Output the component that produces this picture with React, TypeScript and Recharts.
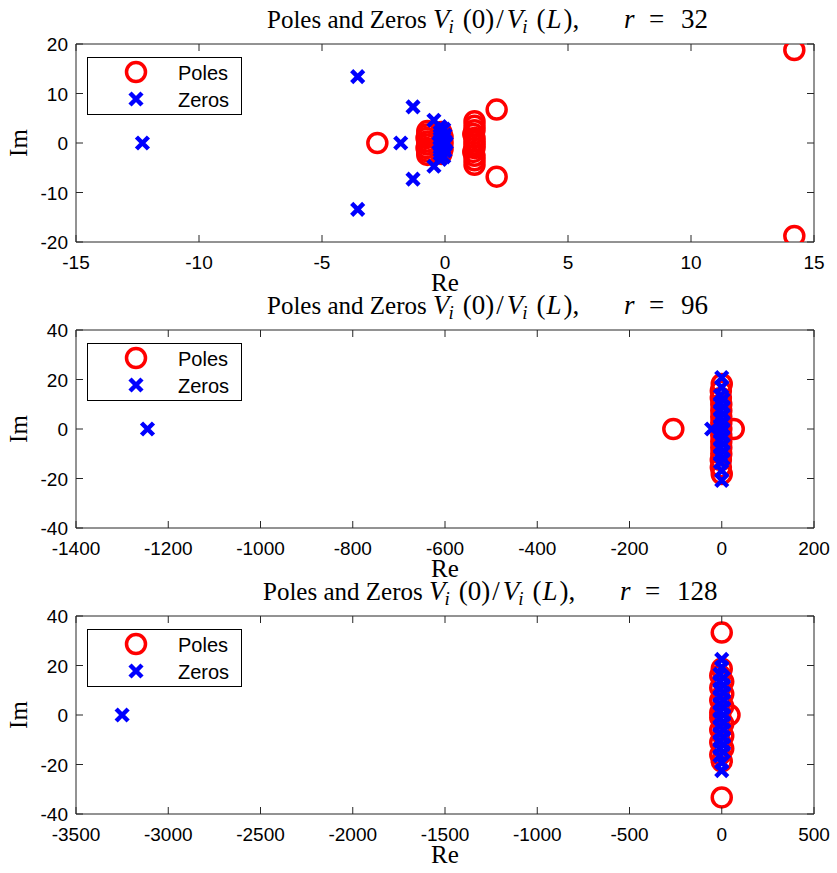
import React from 'react';
import { ScatterChart, Scatter, XAxis, YAxis, ReferenceArea, Legend } from 'recharts';

// ---------- Panel 1 : r = 32 ----------
const poles32: number[][] = [
  [14.2, 18.8], [14.2, -18.8], [2.1, 6.75], [2.1, -6.8], [-2.75, 0],
  [1.2, 4.4], [1.2, -4.4], [1.2, 3.5], [1.2, -3.5], [1.2, 2.6], [1.2, -2.6],
  [1.15, 1.8], [1.15, -1.8], [1.2, 1.0], [1.2, -1.0], [1.2, 0.3], [1.2, -0.3],
  [-0.72, 2.4], [-0.72, -2.4], [-0.72, 1.7], [-0.72, -1.7], [-0.75, 1.0], [-0.75, -1.0],
  [-0.72, 0.3], [-0.72, -0.3],
  [-0.15, 2.2], [-0.15, -2.2], [-0.1, 1.2], [-0.1, -1.2], [-0.1, 0],
];
const zeros32: number[][] = [
  [-12.3, 0], [-3.55, 13.4], [-3.55, -13.4], [-1.3, 7.3], [-1.3, -7.3], [-1.8, 0],
  [-0.45, 4.6], [-0.45, -4.7],
  [-0.2, 3.3], [-0.2, -3.3], [-0.05, 2.8], [-0.05, -2.8], [-0.2, 2.2], [-0.2, -2.2],
  [0, 1.6], [0, -1.6], [-0.2, 1.0], [-0.2, -1.0], [0, 0.4], [0, -0.4], [-0.25, 0], [0.05, 0],
];
const xTicks32 = [-15, -10, -5, 0, 5, 10, 15];
const yTicks32 = [-20, -10, 0, 10, 20];

// ---------- Panel 2 : r = 96 ----------
const poles96: number[][] = [
  [-105, 0], [26, 0],
  [0, 18.2], [0, -18.2], [-2, 15.5], [-2, -15.5], [-2, 12.5], [-2, -12.5],
  [-1, 10], [-1, -10], [-1, 7.5], [-1, -7.5], [-1, 5], [-1, -5], [-1, 2.5], [-1, -2.5], [-1, 0],
];
const zeros96: number[][] = [
  [-1245, 0], [-22, 0],
  [0, 20.8], [0, -20.8], [0, 16.8], [0, -16.8],
  [-3, 13.5], [-3, -13.5], [3, 12], [3, -12], [-3, 10.5], [-3, -10.5], [3, 9], [3, -9],
  [-3, 7.5], [-3, -7.5], [3, 6], [3, -6], [-3, 4.5], [-3, -4.5], [3, 3], [3, -3],
  [-3, 1.5], [-3, -1.5], [3, 0],
];
const xTicks96 = [-1400, -1200, -1000, -800, -600, -400, -200, 0, 200];
const yTicks96 = [-40, -20, 0, 20, 40];

// ---------- Panel 3 : r = 128 ----------
const poles128: number[][] = [
  [0, 33.3], [0, -33.3], [42, 0],
  [0, 18.7], [0, -18.7], [-8, 16], [-8, -16], [8, 13.5], [8, -13.5], [-8, 11], [-8, -11],
  [8, 8.5], [8, -8.5], [-8, 6], [-8, -6], [8, 3.5], [8, -3.5], [-8, 1], [-8, -1],
];
const zeros128: number[][] = [
  [-3250, 0],
  [0, 22.5], [0, -22.5], [0, 19.3], [0, -19.3],
  [-10, 16.5], [-10, -16.5], [10, 15], [10, -15], [-10, 13.5], [-10, -13.5], [10, 12], [10, -12],
  [-10, 10.5], [-10, -10.5], [10, 9], [10, -9], [-10, 7.5], [-10, -7.5], [10, 6], [10, -6],
  [-10, 4.5], [-10, -4.5], [10, 3], [10, -3], [-10, 1.5], [-10, -1.5], [10, 0],
];
const xTicks128 = [-3500, -3000, -2500, -2000, -1500, -1000, -500, 0, 500];
const yTicks128 = [-40, -20, 0, 20, 40];

const toPts = (a: number[][]) => a.map(([re, im]) => ({ re, im }));

const W = 837;
const H = 298;
const M = { top: 44, right: 23, bottom: 55, left: 75 };
const PLOT_L = 76;
const PW = 738;
const PH = 198;
const AX = '#262626';
const TICKFONT = 'Liberation Sans, Arial, Helvetica, sans-serif';
const SERIF = 'Liberation Serif, Times New Roman, serif';

const XTick = (p: any) => (
  <g>
    <line x1={p.x} x2={p.x} y1={p.y} y2={p.y - 7} stroke={AX} strokeWidth={1} />
    <line x1={p.x} x2={p.x} y1={p.y - PH} y2={p.y - PH + 7} stroke={AX} strokeWidth={1} />
    <text x={p.x} y={p.y + 27} textAnchor="middle" fontFamily={TICKFONT} fontSize={19} fill="#000">
      {p.payload.value}
    </text>
  </g>
);

const YTick = (p: any) => (
  <g>
    <line x1={p.x} x2={p.x + 7} y1={p.y} y2={p.y} stroke={AX} strokeWidth={1} />
    <line x1={p.x + PW} x2={p.x + PW - 7} y1={p.y} y2={p.y} stroke={AX} strokeWidth={1} />
    <text x={p.x - 8} y={p.y + 7} textAnchor="end" fontFamily={TICKFONT} fontSize={19} fill="#000">
      {p.payload.value}
    </text>
  </g>
);

const PoleMark = (p: any) => (
  <circle cx={p.cx} cy={p.cy} r={9.5} fill="none" stroke="#ff0000" strokeWidth={3.5} />
);
const ZeroMark = (p: any) => {
  const s = 6;
  return (
    <path
      d={`M${p.cx - s},${p.cy - s}L${p.cx + s},${p.cy + s}M${p.cx - s},${p.cy + s}L${p.cx + s},${p.cy - s}`}
      stroke="#0000ff"
      strokeWidth={4.5}
      fill="none"
    />
  );
};

const LegendBox = (props: any) => {
  const items = (props.payload || []) as any[];
  return (
    <svg width={155} height={58} style={{ display: 'block' }}>
      <rect x={0.5} y={0.5} width={154} height={57} fill="#fff" stroke="#000" strokeWidth={1} />
      {items.map((it, i) => {
        const cy = 15 + i * 27;
        return (
          <g key={i}>
            {it.value === 'Poles' ? (
              <circle cx={49} cy={cy} r={9.5} fill="none" stroke="#ff0000" strokeWidth={3.5} />
            ) : (
              <path d={`M43,${cy - 6}L55,${cy + 6}M43,${cy + 6}L55,${cy - 6}`} stroke="#0000ff" strokeWidth={4.5} />
            )}
            <text x={91} y={cy + 8} fontFamily={TICKFONT} fontSize={20} fill="#000">
              {it.value}
            </text>
          </g>
        );
      })}
    </svg>
  );
};

function Title({ r, shift }: { r: string; shift: number }) {
  const s = shift;
  return (
    <text y={28} fontFamily={SERIF} fontSize={27} fill="#000">
      <tspan x={267 + s} fontSize={25}>{'Poles and Zeros'}</tspan>
      <tspan x={433 + s} fontStyle="italic">V</tspan>
      <tspan fontStyle="italic" fontSize={19} dy={5} dx={-1}>i</tspan>
      <tspan dy={-5} dx={9}>{'(0)'}</tspan>
      <tspan dx={2}>{'/'}</tspan>
      <tspan fontStyle="italic" dx={3}>V</tspan>
      <tspan fontStyle="italic" fontSize={19} dy={5} dx={-1}>i</tspan>
      <tspan dy={-5} dx={9}>{'('}</tspan>
      <tspan fontStyle="italic" dx={1}>L</tspan>
      <tspan dx={2}>{'),'}</tspan>
      <tspan x={624 + s} fontStyle="italic">r</tspan>
      <tspan x={649 + s}>{'='}</tspan>
      <tspan x={681 + s}>{r}</tspan>
    </text>
  );
}

function Panel(props: {
  top: number;
  r: string;
  shift: number;
  poles: number[][];
  zeros: number[][];
  xTicks: number[];
  yTicks: number[];
}) {
  const { top, r, shift, poles, zeros, xTicks, yTicks } = props;
  const xd: [number, number] = [xTicks[0], xTicks[xTicks.length - 1]];
  const yd: [number, number] = [yTicks[0], yTicks[yTicks.length - 1]];
  return (
    <div style={{ position: 'absolute', left: 0, top }}>
      <ScatterChart width={W} height={H} margin={M}>
        <XAxis
          type="number"
          dataKey="re"
          domain={xd}
          ticks={xTicks}
          interval={0}
          allowDataOverflow
          height={1}
          tickSize={0}
          tickMargin={0}
          axisLine={false}
          tick={(p: any) => <XTick {...p} />}
        />
        <YAxis
          type="number"
          dataKey="im"
          domain={yd}
          ticks={yTicks}
          interval={0}
          allowDataOverflow
          width={1}
          tickSize={0}
          tickMargin={0}
          axisLine={false}
          tick={(p: any) => <YTick {...p} />}
        />
        <ReferenceArea x1={xd[0]} x2={xd[1]} y1={yd[0]} y2={yd[1]} fill="none" fillOpacity={0} stroke={AX} strokeWidth={1} />
        <Scatter name="Poles" data={toPts(poles)} fill="#ff0000" shape={PoleMark} isAnimationActive={false} />
        <Scatter name="Zeros" data={toPts(zeros)} fill="#0000ff" shape={ZeroMark} isAnimationActive={false} />
        <Legend
          layout="horizontal"
          align="center"
          verticalAlign="middle"
          content={LegendBox}
          wrapperStyle={{ left: 87, top: 57, width: 155, height: 58 }}
        />
        <Title r={r} shift={shift} />
        <text x={PLOT_L + PW / 2} y={M.top + PH + 49} textAnchor="middle" fontFamily={SERIF} fontSize={25} fill="#000">
          Re
        </text>
        <text
          x={27}
          y={M.top + PH / 2}
          textAnchor="middle"
          fontFamily={SERIF}
          fontSize={25}
          fill="#000"
          transform={`rotate(-90, 27, ${M.top + PH / 2})`}
        >
          Im
        </text>
      </ScatterChart>
    </div>
  );
}

export default function App() {
  return (
    <div style={{ position: 'absolute', left: 0, top: 0, width: 837, height: 873, background: '#fff' }}>
      <Panel top={0} r="32" shift={0} poles={poles32} zeros={zeros32} xTicks={xTicks32} yTicks={yTicks32} />
      <Panel top={286} r="96" shift={0} poles={poles96} zeros={zeros96} xTicks={xTicks96} yTicks={yTicks96} />
      <Panel top={572} r="128" shift={-4} poles={poles128} zeros={zeros128} xTicks={xTicks128} yTicks={yTicks128} />
    </div>
  );
}
